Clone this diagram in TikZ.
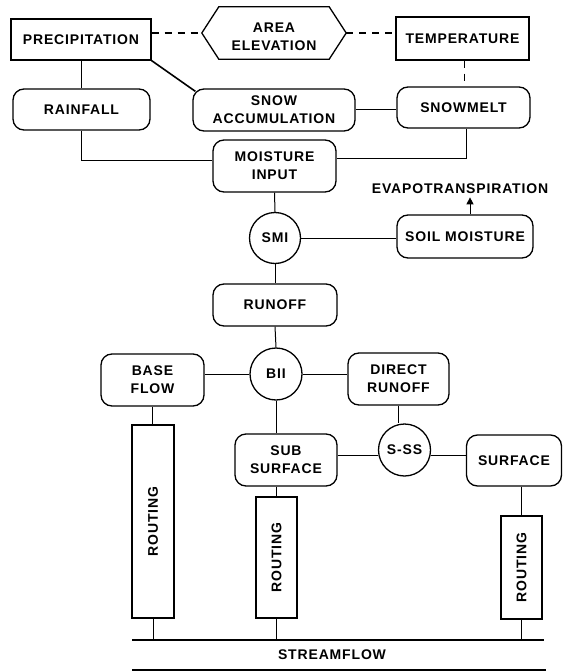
\documentclass[tikz,border=0pt]{standalone}
\usepackage{fontspec}
\setmainfont{Liberation Sans}[LetterSpace=6]
\usetikzlibrary{arrows.meta}
\begin{document}
\begin{tikzpicture}[x=1pt,y=-1pt,
  every node/.style={font=\fontsize{14}{18}\selectfont\bfseries, align=center, inner sep=0pt},
  sbox/.style 2 args={draw, line width=1.3pt, minimum width=#1, minimum height=#2},
  rbox/.style 2 args={draw, line width=1.3pt, rounded corners=11pt, minimum width=#1, minimum height=#2},
  cnode/.style={draw, circle, line width=1.3pt, minimum size=#1},
  rout/.style 2 args={draw, line width=1.3pt, minimum width=#1, minimum height=#2},
  conn/.style={line width=1pt},
  dline/.style={line width=1.3pt, dash pattern=on 7pt off 6pt},
  boxline/.style={line width=1.3pt, line join=miter}]
\useasboundingbox (0,0) rectangle (563,671);
% top row
\node[sbox={140pt}{41pt}] (prec) at (81,39.5) {PRECIPITATION};
\node[minimum width=144pt, minimum height=52pt] (hex) at (274,33) {};
\draw[boxline] (hex.west) -- ([xshift=17pt]hex.north west) -- ([xshift=-17pt]hex.north east)
  -- (hex.east) -- ([xshift=-17pt]hex.south east) -- ([xshift=17pt]hex.south west) -- cycle;
\node (hext) at (274,37) {AREA\\ELEVATION};
\node[sbox={133pt}{43pt}] (temp) at (462.5,38.5) {TEMPERATURE};
% second row
\node[rbox={137pt}{41pt}] (rain) at (81.5,109.5) {RAINFALL};
\node[rbox={162pt}{42pt}] (snowacc) at (274,110) {SNOW\\ACCUMULATION};
\node[rbox={133pt}{41pt}] (snowmelt) at (463.5,107.5) {SNOWMELT};
% moisture
\node[rbox={123pt}{52pt}] (moist) at (274.5,166) {MOISTURE\\INPUT};
\node[cnode=51pt] (smi) at (275,238) {SMI};
\node[rbox={136pt}{43pt}] (soil) at (465,236.5) {SOIL MOISTURE};
\node (evap) at (460,189) {EVAPOTRANSPIRATION};
\node[rbox={124pt}{42pt}] (runoff) at (275,305) {RUNOFF};
% lower part
\node[cnode=52pt] (bii) at (276,374) {BII};
\node[rbox={103pt}{52pt}] (base) at (152.5,380) {BASE\\FLOW};
\node[rbox={101pt}{52pt}] (direct) at (398.5,379) {DIRECT\\RUNOFF};
\node[rbox={102pt}{52pt}] (subs) at (286,460) {SUB\\SURFACE};
\node[cnode=52pt] (sss) at (404.5,450) {S-SS};
\node[rbox={95pt}{51pt}] (surf) at (514,460.5) {SURFACE};
\node[rout={42pt}{193pt}] (rout1) at (153,521.5) {\rotatebox{90}{ROUTING}};
\node[rout={41pt}{121pt}] (rout2) at (276.5,557.5) {\rotatebox{90}{ROUTING}};
\node[rout={41pt}{103pt}] (rout3) at (521.5,567.5) {\rotatebox{90}{ROUTING}};
% streamflow
\coordinate (sl1) at (132,640);
\coordinate (sr1) at (544,640);
\coordinate (sl2) at (132,670);
\coordinate (sr2) at (546,670);
\node (stream) at (332,655) {STREAMFLOW};
\draw[line width=1.3pt] (sl1) -- (sr1);
\draw[line width=1.5pt] (sl2) -- (sr2);
% connectors
\draw[dline] (prec.east |- hex.west) -- (hex.west);
\draw[dline] (hex.east) -- (hex.east -| temp.west);
\draw[dline] ([xshift=2pt]temp.south) -- ([xshift=2pt]temp.south |- snowmelt.north);
\draw[conn] (prec.south) -- (prec.south |- rain.north);
\draw[line width=1.6pt] (prec.south east) -- ([xshift=3pt,yshift=-3pt]snowacc.north west);
\draw[conn] (snowacc.east) -- (snowacc.east -| snowmelt.west);
\draw[conn] (rain.south) |- ([yshift=5pt]moist.west);
\draw[conn] ([xshift=3pt]snowmelt.south) |- ([yshift=7pt]moist.east);
\draw[conn] (moist.south) -- (smi.north);
\draw[conn] (smi.east) -- (smi.east -| soil.west);
\draw[conn, -{Triangle[length=7pt,width=7pt]}] ([xshift=5pt]soil.north) -- ++(0,-17);
\draw[conn] (smi.south) -- (runoff.north);
\draw[conn] (runoff.south) -- (bii.north);
\draw[conn] (bii.west) -- (bii.west -| base.east);
\draw[conn] (bii.east) -- (bii.east -| direct.west);
\draw[conn] (base.south) -- (base.south |- rout1.north);
\draw[conn] (bii.south) -- (bii.south |- subs.north);
\draw[conn] (direct.south) -- (direct.south |- sss.north);
\coordinate (ssl) at ([yshift=-5pt]sss.west);
\coordinate (ssr) at ([yshift=-5pt]sss.east);
\draw[conn] (ssl -| subs.east) -- (ssl);
\draw[conn] (ssr) -- (ssr -| surf.west);
\draw[conn] (rout2.north |- subs.south) -- (rout2.north);
\draw[conn] (rout3.north |- surf.south) -- (rout3.north);
\draw[conn] (rout1.south) -- (rout1.south |- sl1);
\draw[conn] (rout2.south) -- (rout2.south |- sl1);
\draw[conn] (rout3.south) -- (rout3.south |- sl1);
\end{tikzpicture}
\end{document}
